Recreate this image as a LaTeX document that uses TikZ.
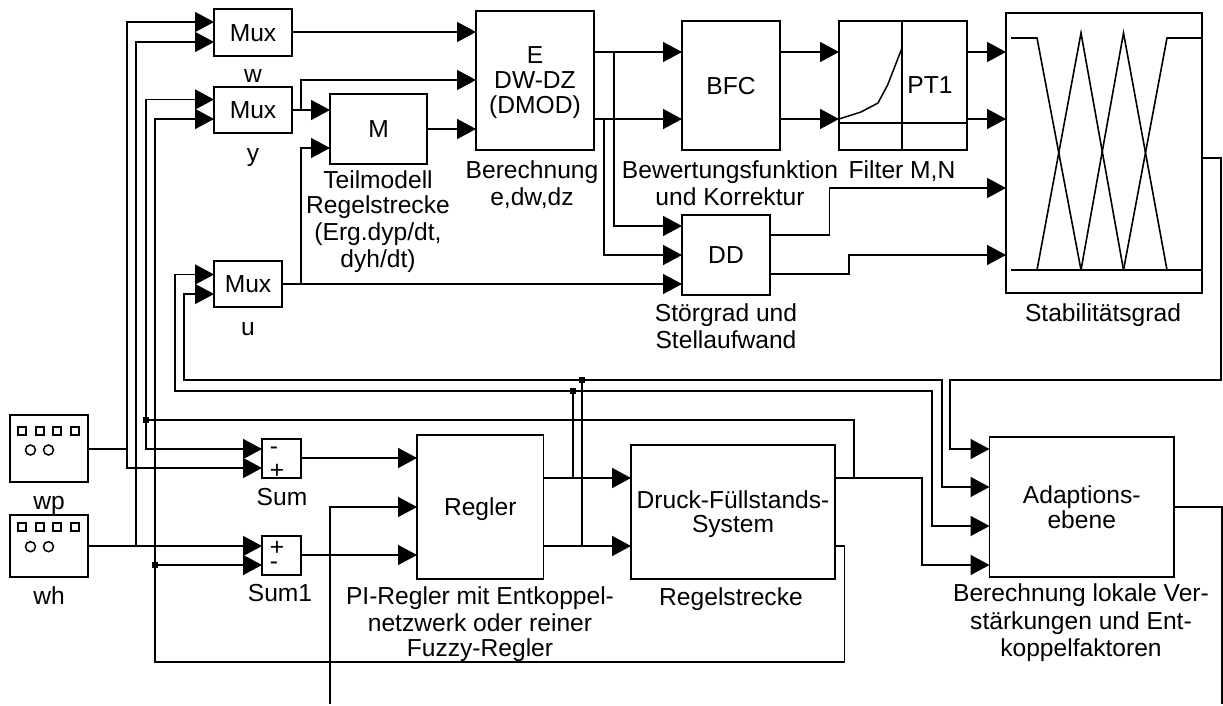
\documentclass[tikz,border=0pt]{standalone}
\usepackage{fontspec}
\setmainfont{Liberation Sans}
\usetikzlibrary{arrows.meta}
\newcommand{\labfont}{\fontsize{24.6}{25}\selectfont}
\newcommand{\st}{\vrule width 0pt height 21.2pt depth 3.8pt}
\tikzset{
  x=1pt,y=-1pt,
  every path/.style={line width=1.5pt},
  blockbox/.style 2 args={draw=black,minimum width=#1,minimum height=#2,inner sep=0pt,outer sep=0pt,
     font=\labfont,align=center,line width=1.7pt},
  lab/.style={font=\labfont,align=center,inner sep=0pt,outer sep=0pt},
  wire/.style={draw=black,line width=1.7pt},
  arr/.style={wire,-{Triangle[length=19pt,width=20pt]}},
  arrb/.style={wire,{Triangle[length=19pt,width=20pt]}-{Triangle[length=19pt,width=20pt]}},
  dot/.style={fill=black,draw=none,minimum size=6pt,inner sep=0pt,outer sep=0pt,rectangle},
  fuzzy/.style={draw=black,line width=1.6pt},
  icon/.style={draw=black,line width=1.5pt},
}
\begin{document}
\begin{tikzpicture}
\useasboundingbox (0,0) rectangle (1223,706);
% blocks
\node[blockbox={78pt}{46.5pt}] (muxw) at (253,32.5) {\st Mux};
\node[blockbox={78pt}{46pt}] (muxy) at (253,110) {\st Mux};
\node[blockbox={68pt}{46pt}] (muxu) at (248,284) {\st Mux};
\node[blockbox={97pt}{70pt}] (m) at (378.5,129) {\st M};
\node[blockbox={118pt}{139pt}] (e) at (535,80.5) {\st E\\\st DW-DZ\\\st (DMOD)};
\node[blockbox={98pt}{129pt}] (bfc) at (731,85.5) {\st BFC};
\node[blockbox={128pt}{129pt}] (filt) at (903,85.5) {};
\node[blockbox={196pt}{280pt}] (stab) at (1104,153) {};
\node[blockbox={88pt}{80pt}] (dd) at (726,255) {\st DD};
\node[blockbox={78pt}{67pt}] (wp) at (49,448.5) {};
\node[blockbox={78pt}{62pt}] (wh) at (49,546) {};
\node[blockbox={39pt}{39pt}] (sum) at (281.5,458.5) {};
\node[blockbox={39pt}{39pt}] (sumb) at (281.5,555.5) {};
\node[blockbox={126.5pt}{143.5pt}] (regler) at (480.25,507) {\st Regler};
\node[blockbox={204pt}{133.5pt}] (druck) at (733,512) {\st Druck-Füllstands-\\[-1pt]\st System};
\node[blockbox={184.5pt}{140pt}] (adapt) at (1081.75,507) {\st Adaptions-\\[-2pt]\st ebene};
% junction points
\node[dot] (j1) at (146,420) {};
\node[dot] (j2) at (155,565) {};
\node[dot] (j3) at (573,391) {};
\node[dot] (j4) at (582,380) {};
% bend points
\coordinate (bwp) at (127,449);
\coordinate (bwh) at (136,546);
\coordinate (by) at (301,110);
\coordinate (bu) at (301,284);
\coordinate (be1) at (614,52);
\coordinate (be2) at (604,119);
\coordinate (bfr) at (922,478);
\coordinate (bdr) at (854,478);
\coordinate (ra) at (1221,158);
\coordinate (rb) at (950,380);
\coordinate (bot1) at (330,704);
\coordinate (bot2) at (1222,704);
\coordinate (br) at (1222,507);
% upper row
\draw[arr] (muxw.east |- 0,32) -- (e.west |- 0,32);
\draw[wire] (muxy.east |- 0,110) -- (by);
\draw[arr] (by) |- (e.west |- 0,80);
\draw[arr] (by) -- (m.west |- 0,110);
\draw[arr] (m.east |- 0,129) -- (e.west |- 0,129);
\draw[wire] (muxu.east |- 0,284) -- (bu);
\draw[arr] (bu) |- (m.west |- 0,148);
\draw[arr] (bu) -- (dd.west |- 0,284);
\draw[arr] (e.east |- 0,52) -- (bfc.west |- 0,52);
\draw[arr] (e.east |- 0,119) -- (bfc.west |- 0,119);
\draw[arr] (be1) |- (dd.west |- 0,226);
\draw[arr] (be2) |- (dd.west |- 0,255);
\draw[arr] (bfc.east |- 0,52) -- (filt.west |- 0,52);
\draw[arr] (bfc.east |- 0,119) -- (filt.west |- 0,119);
\draw[arr] (filt.east |- 0,52) -- (stab.west |- 0,52);
\draw[arr] (filt.east |- 0,119) -- (stab.west |- 0,119);
\draw[arr] (dd.east |- 0,235) -- (829.5,235) |- (stab.west |- 0,188);
\draw[arr] (dd.east |- 0,274) -- (849,274) |- (stab.west |- 0,255);
% sources and long buses
\draw[wire] (wp.east |- 0,449) -- (bwp);
\draw[arrb] (muxw.west |- 0,22) -| (bwp) |- (sum.west |- 0,468);
\draw[wire] (wh.east |- 0,546) -- (bwh);
\draw[arr] (bwh) -- (sumb.west |- 0,546);
\draw[arr] (bwh) |- (muxw.west |- 0,42);
\draw[arrb] (muxy.west |- 0,99.5) -| (146,449) -- (sum.west |- 0,449);
\draw[wire] (j1) -| (bdr);
\draw[arr] (j2) -- (sumb.west |- 0,565);
\draw[arr] (druck.east |- 0,546) -- (844.5,546) |- (155,662) |- (muxy.west |- 0,119);
\draw[arr] (sum.east |- 0,458) -- (regler.west |- 0,458);
\draw[arr] (sumb.east |- 0,555) -- (regler.west |- 0,555);
\draw[arr] (bot1) |- (regler.west |- 0,507);
\draw[arr] (regler.east |- 0,478) -- (druck.west |- 0,478);
\draw[arr] (regler.east |- 0,546) -- (druck.west |- 0,546);
\draw[wire] (j3) -- (j3 |- 0,478);
\draw[wire] (j4) -- (j4 |- 0,546);
% feedback of u
\draw[arrb] (muxu.west |- 0,274.5) -| (175,391) -- (931.7,391) |- (adapt.west |- 0,526);
\draw[arrb] (muxu.west |- 0,294) -| (184,380) -- (942,380) |- (adapt.west |- 0,487);
\draw[arr] (druck.east |- 0,478) -- (bfr) |- (adapt.west |- 0,565);
\draw[arr] (stab.east |- 0,158) -- (ra) |- (rb) |- (adapt.west |- 0,449);
\draw[wire] (adapt.east |- 0,507) -- (br) -- (bot2);
% filter block inner drawing
\draw[wire] (902,21) -- (902,150);
\draw[wire] (839,123) -- (967,123);
\draw[wire,line width=1.5pt] (839,119) -- (861,112) -- (878,103) -- (887.6,85) -- (902,48);
\node[lab] (pt) at (930,85) {\st PT1};
% fuzzy sets
\draw[fuzzy] (1011,38) -- (1037,38) -- (1081,270);
\draw[fuzzy] (1037,270) -- (1081,33) -- (1123.5,270);
\draw[fuzzy] (1081,270) -- (1123.5,33) -- (1167,270);
\draw[fuzzy] (1123.5,270) -- (1167,38) -- (1201,38);
\draw[fuzzy] (1011,270) -- (1201,270);
% source icons
\foreach \yy/\yc/\nm in {431/450/a,527/546.7/b}{
  \foreach \xx in {22,40,57,75}{\draw[icon] (\xx-4,\yy-4) rectangle (\xx+4,\yy+4);}
  \draw[icon] (30.5,\yc) circle (5pt);
  \draw[icon] (48.5,\yc) circle (5pt);
}
% sum signs
\node[lab] (s1) at (274,451) {-};
\node[lab] (s2) at (277,471) {+};
\node[lab] (s3) at (277,548) {+};
\node[lab] (s4) at (274,566) {-};
% labels
\node[lab] (lw) at (253,74) {\st w};
\node[lab] (ly) at (253,153) {\st y};
\node[lab] (lu) at (248,327) {\st u};
\node[lab] (lm) at (378,220) {\st Teilmodell\\\st Regelstrecke\\\st (Erg.dyp/dt,\\\st dyh/dt)};
\node[lab] (le) at (532,183) {\st Berechnung\\\st e,dw,dz};
\node[lab] (lb) at (730,183) {\st Bewertungsfunktion\\\st und Korrektur};
\node[lab] (lf) at (902,170) {\st Filter M,N};
\node[lab] (ld) at (726,326.5) {\st Störgrad und\\\st Stellaufwand};
\node[lab] (ls) at (1103,313) {\st Stabilitätsgrad};
\node[lab] (lwp) at (49,501) {\st wp};
\node[lab] (lwh) at (49,596) {\st wh};
\node[lab] (lsum) at (282,497) {\st Sum};
\node[lab] (lsumb) at (280,593) {\st Sum1};
\node[lab] (lr) at (480,622.5) {\st PI-Regler mit Entkoppel-\\\st netzwerk oder reiner\\\st Fuzzy-Regler};
\node[lab] (ldr) at (731,597) {\st Regelstrecke};
\node[lab] (la) at (1081,621) {\st Berechnung lokale Ver-\\\st stärkungen und Ent-\\\st koppelfaktoren};
\end{tikzpicture}
\end{document}
